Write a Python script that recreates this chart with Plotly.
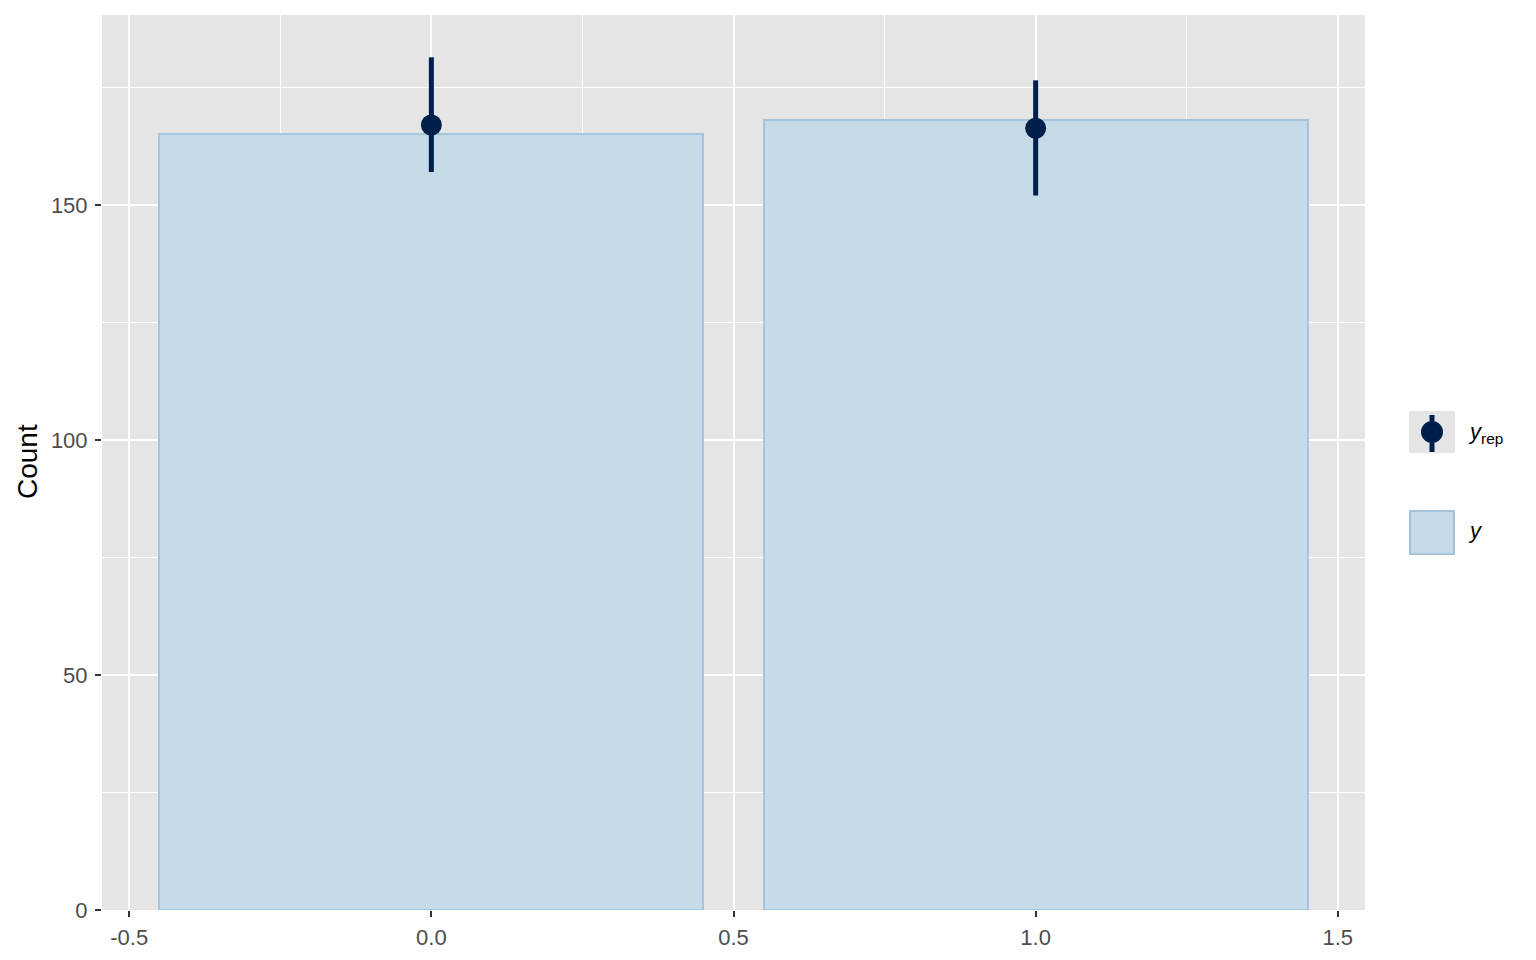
import plotly.graph_objects as go

# Data
categories = [0, 1]
y_counts = [165, 168]
yrep_median = [167, 166.3]
yrep_low = [157, 152]
yrep_high = [181.4, 176.5]

x_tickvals = [-0.5, 0.0, 0.5, 1.0, 1.5]
x_ticktext = ["-0.5", "0.0", "0.5", "1.0", "1.5"]
y_tickvals = [0, 50, 100, 150]
y_ticktext = ["0", "50", "100", "150"]

BAR_FILL = "#C7DAE7"
BAR_LINE = "#A7C4DD"
DARK = "#011F4B"
PANEL = "#E5E5E5"

OFF = 8  # page body offset
W, H = 1536, 960
L, T = 102 - OFF, 15 - OFF
PR, PB = 1365 - OFF, 910 - OFF
R, B = W - PR, H - PB
PW = PR - L
PH = PB - T


def px(x):
    return (x - OFF - L) / PW


def py(y):
    return (PB - (y - OFF)) / PH


FONT = "Liberation Sans, Arial, sans-serif"

fig = go.Figure()
fig.add_trace(go.Bar(
    x=categories, y=y_counts, width=0.9,
    marker=dict(color=BAR_FILL, line=dict(color=BAR_LINE, width=2)),
    showlegend=False, hoverinfo="skip",
))
fig.add_trace(go.Scatter(
    x=categories, y=yrep_median, mode="markers",
    marker=dict(color=DARK, size=21),
    error_y=dict(type="data", symmetric=False,
                 array=[h - m for h, m in zip(yrep_high, yrep_median)],
                 arrayminus=[m - l for m, l in zip(yrep_median, yrep_low)],
                 color=DARK, thickness=5, width=0),
    showlegend=False, hoverinfo="skip",
))

tickfont = dict(family=FONT, size=22, color="#4D4D4D")
fig.update_xaxes(
    range=[-0.545, 1.545], tickvals=x_tickvals, ticktext=x_ticktext,
    showgrid=True, gridcolor="white", gridwidth=2,
    minor=dict(dtick=0.25, tick0=-0.25, showgrid=True, gridcolor="white", gridwidth=1, ticks=""),
    ticks="outside", ticklen=6, tickwidth=2, tickcolor="#333333",
    tickfont=tickfont, zeroline=False, showline=False, ticklabelstandoff=2,
)
fig.update_yaxes(
    range=[0, 190.4], tickvals=y_tickvals, ticktext=y_ticktext,
    showgrid=True, gridcolor="white", gridwidth=2,
    minor=dict(dtick=25, tick0=25, showgrid=True, gridcolor="white", gridwidth=1, ticks=""),
    ticks="outside", ticklen=6, tickwidth=2, tickcolor="#333333",
    tickfont=tickfont, zeroline=False, showline=False, ticklabelstandoff=3,
)

shapes = []
annotations = []
# legend key 1: y_rep
shapes.append(dict(type="rect", xref="paper", yref="paper",
                   x0=px(1409), x1=px(1455), y0=py(453), y1=py(411),
                   fillcolor=PANEL, line=dict(width=0), layer="above"))
shapes.append(dict(type="line", xref="paper", yref="paper",
                   x0=px(1432), x1=px(1432), y0=py(452), y1=py(415),
                   line=dict(color=DARK, width=5), layer="above"))
shapes.append(dict(type="circle", xref="paper", yref="paper",
                   x0=px(1421), x1=px(1443), y0=py(443), y1=py(421),
                   fillcolor=DARK, line=dict(width=0), layer="above"))
annotations.append(dict(xref="paper", yref="paper", x=px(1466), y=py(433),
                        xanchor="left", yanchor="middle", showarrow=False,
                        text="<i>y</i><sub>rep</sub>",
                        font=dict(family=FONT, size=22, color="black")))
# legend key 2: y
shapes.append(dict(type="rect", xref="paper", yref="paper",
                   x0=px(1410), x1=px(1454), y0=py(554), y1=py(511),
                   fillcolor=BAR_FILL, line=dict(color=BAR_LINE, width=2), layer="above"))
annotations.append(dict(xref="paper", yref="paper", x=px(1466), y=py(530),
                        xanchor="left", yanchor="middle", showarrow=False,
                        text="<i>y</i>",
                        font=dict(family=FONT, size=22, color="black")))
# y axis title
annotations.append(dict(xref="paper", yref="paper", x=px(27), y=py(462),
                        xanchor="center", yanchor="middle", showarrow=False,
                        text="Count", textangle=-90,
                        font=dict(family=FONT, size=28, color="black")))

fig.update_layout(
    width=W, height=H, autosize=False,
    margin=dict(l=L, r=R, t=T, b=B, pad=0),
    paper_bgcolor="white", plot_bgcolor=PANEL,
    bargap=0, showlegend=False,
    shapes=shapes, annotations=annotations,
)

fig.write_html("out.html")
